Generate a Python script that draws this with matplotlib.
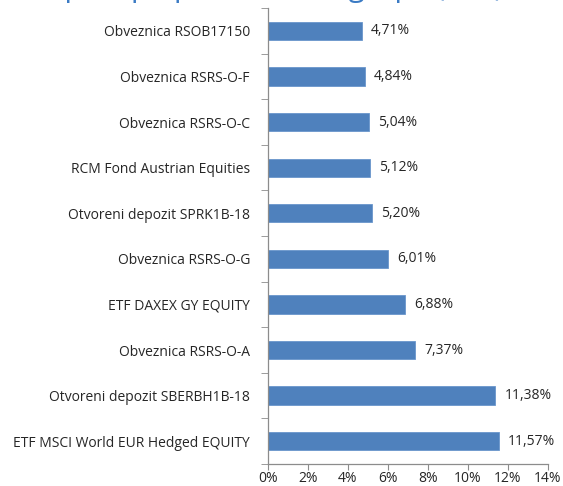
import numpy as np
import matplotlib
matplotlib.use('Agg')
import matplotlib.pyplot as plt

plt.rcParams['font.family'] = ['Open Sans', 'DejaVu Sans']

# podaci (odozgo prema dolje)
categories = ['Obveznica RSOB17150', 'Obveznica RSRS-O-F', 'Obveznica RSRS-O-C',
              'RCM Fond Austrian Equities', 'Otvoreni depozit SPRK1B-18',
              'Obveznica RSRS-O-G', 'ETF DAXEX GY EQUITY', 'Obveznica RSRS-O-A',
              'Otvoreni depozit SBERBH1B-18', 'ETF MSCI World EUR Hedged EQUITY']
values = [4.71, 4.84, 5.04, 5.12, 5.20, 6.01, 6.88, 7.37, 11.38, 11.57]
xticks = [0, 2, 4, 6, 8, 10, 12, 14]
title = 'Top 10 po plasmanima grupe (u %)'

bar_color = '#4F81BD'
axis_color = '#8C8C8C'
text_color = '#262626'
fs = 10

fig = plt.figure(figsize=(5.63, 4.86), dpi=100)
ax = fig.add_axes([0.476, 0.0453, 0.497, 0.938])

y = np.arange(len(categories))
ax.barh(y, values, height=0.4, color=bar_color, edgecolor='#6A96CC', linewidth=0.6)

for yi, v in zip(y, values):
    ax.text(v + 0.45, yi, f'{v:.2f}'.replace('.', ',') + '%', va='center', ha='left',
            fontsize=fs, color=text_color)

ax.set_xlim(0, 14)
ax.set_ylim(len(categories) - 0.5, -0.5)
ax.set_xticks(xticks)
ax.set_xticklabels([f'{t}%' for t in xticks], fontsize=fs, color=text_color)
ax.set_yticks(y)
ax.set_yticklabels(categories, fontsize=fs, color=text_color)
ax.set_yticks(np.arange(-0.5, len(categories), 1), minor=True)

ax.tick_params(axis='y', which='major', length=0, pad=13)
ax.tick_params(axis='y', which='minor', length=5, color=axis_color, direction='out')
ax.tick_params(axis='x', length=4, color=axis_color, direction='out', pad=1)

for s in ['top', 'right']:
    ax.spines[s].set_visible(False)
for s in ['left', 'bottom']:
    ax.spines[s].set_color(axis_color)
    ax.spines[s].set_linewidth(0.9)

# naslov je odrezan na vrhu slike, vide se samo donji dijelovi slova
fig.text(0.055, 1.008, title, fontsize=21, color='#3B7BC4', ha='left', va='baseline')

fig.savefig('out.png', dpi=100)
